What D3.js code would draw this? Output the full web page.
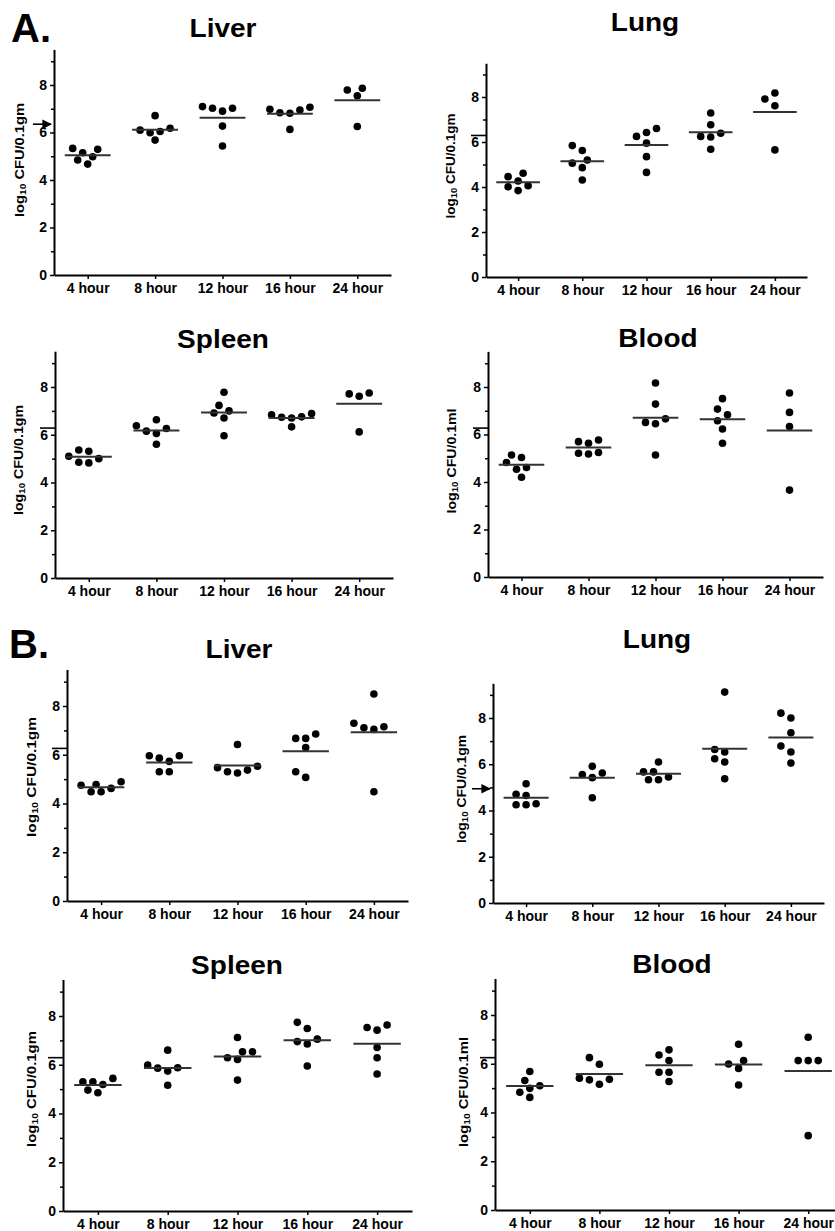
<!DOCTYPE html>
<html>
<head>
<meta charset="utf-8">
<script src="https://cdn.jsdelivr.net/npm/d3@7"></script>
<style>
  body { margin: 0; background: #fff; }
  svg text { font-family: "Liberation Sans", Arial, Helvetica, sans-serif; font-weight: bold; fill: #000; }
</style>
</head>
<body>
<svg width="835" height="1231"></svg>
<script>
// categories and ticks
const hours = ["4 hour", "8 hour", "12 hour", "16 hour", "24 hour"];
const majorTicks = [0, 2, 4, 6, 8];
const minorTicks = [1, 3, 5, 7, 9];

// log10 CFU per animal, one array per time point
const aLiver = [[5.29, 5.15, 5.33, 4.98, 4.67, 4.84], [6.71, 6.04, 6.18, 6.10, 5.99, 5.68], [7.02, 6.90, 7.09, 7.02, 6.27, 5.43], [6.98, 6.81, 6.83, 7.06, 6.95, 6.13], [7.79, 7.55, 7.86, 6.25]];
const aLung = [[4.61, 4.46, 4.27, 4.06, 3.84, 4.01], [5.84, 5.62, 5.06, 4.86, 5.20, 4.31], [6.60, 6.42, 6.25, 5.95, 5.35, 4.65], [7.29, 6.77, 6.25, 6.22, 6.39, 5.68], [7.91, 8.18, 7.61, 5.65]];
const aSpleen = [[5.31, 5.36, 5.10, 5.00, 4.82, 4.85], [6.38, 6.63, 6.26, 6.05, 6.15, 5.60], [7.78, 7.23, 7.00, 6.91, 6.70, 5.96], [6.89, 6.84, 6.73, 6.70, 6.75, 6.33], [7.71, 7.61, 7.75, 6.12]];
const aBlood = [[5.03, 5.14, 4.82, 4.61, 4.54, 4.20], [5.77, 5.70, 5.63, 5.24, 5.18, 5.21], [8.17, 7.28, 6.51, 6.45, 6.66, 5.14], [7.51, 7.07, 6.83, 6.58, 6.23, 5.63], [7.75, 6.93, 6.34, 3.66]];
const bLiver = [[4.62, 4.78, 4.75, 4.89, 4.48, 4.48], [5.96, 5.86, 5.96, 5.73, 5.30, 5.30], [6.42, 5.53, 5.37, 5.47, 5.30, 5.25], [6.67, 6.85, 6.67, 6.30, 5.30, 5.07], [8.49, 7.29, 7.11, 7.04, 7.15, 4.48]];
const bLung = [[5.16, 4.70, 4.65, 4.29, 4.25, 4.25], [5.91, 5.62, 5.56, 5.42, 4.55], [6.10, 5.67, 5.67, 5.45, 5.33, 5.33], [9.12, 6.64, 6.53, 6.24, 6.10, 5.37], [8.21, 8.00, 7.36, 6.79, 6.53, 6.05]];
const bSpleen = [[5.30, 5.19, 5.30, 5.44, 4.85, 4.96], [6.60, 5.99, 5.86, 5.74, 5.88, 5.16], [7.12, 6.53, 6.53, 6.29, 6.22, 5.37], [7.74, 7.49, 6.95, 6.85, 7.05, 5.95], [7.53, 7.42, 7.63, 6.71, 6.29, 5.62]];
const bBlood = [[5.31, 5.68, 4.99, 5.10, 4.83, 4.62], [6.25, 5.98, 5.36, 5.41, 5.34, 5.16], [6.36, 6.13, 6.57, 5.65, 5.65, 5.27], [6.80, 5.99, 5.81, 6.13, 5.13], [7.09, 6.13, 6.13, 6.13, 3.05]];

// inoculum marks on the y axis
const inocA = [6.35, 6.29, 6.28, 6.27];
const inocB = [6.26, 4.94, 6.29, 6.25];

const svg = d3.select("svg");

// panel frames: axis extents in px, title and y-label positions
const panels = [
  { title: "Liver", unit: "gm", values: aLiver, inoc: inocA[0], arrow: true, left: 54, right: 391, y0: 275, y8: 85, tx: 223, ty: 37, lx: 19, ly: 160, ll: 114 },
  { title: "Lung", unit: "gm", values: aLung, inoc: inocA[1], arrow: false, left: 486, right: 807, y0: 277, y8: 97, tx: 645, ty: 31, lx: 450, ly: 166, ll: 105 },
  { title: "Spleen", unit: "gm", values: aSpleen, inoc: inocA[2], arrow: false, left: 55, right: 393, y0: 578, y8: 387, tx: 223, ty: 348, lx: 18, ly: 460, ll: 110 },
  { title: "Blood", unit: "ml", values: aBlood, inoc: inocA[3], arrow: false, left: 488, right: 823, y0: 577, y8: 387, tx: 658, ty: 347, lx: 451, ly: 461, ll: 105 },
  { title: "Liver", unit: "gm", values: bLiver, inoc: inocB[0], arrow: false, left: 67, right: 408, y0: 901, y8: 706, tx: 239, ty: 658, lx: 31, ly: 777, ll: 120 },
  { title: "Lung", unit: "gm", values: bLung, inoc: inocB[1], arrow: true, left: 493, right: 824, y0: 903, y8: 718, tx: 657, ty: 648, lx: 461, ly: 789, ll: 108 },
  { title: "Spleen", unit: "gm", values: bSpleen, inoc: inocB[2], arrow: false, left: 63, right: 412, y0: 1211, y8: 1016, tx: 237, ty: 974, lx: 31, ly: 1089, ll: 116 },
  { title: "Blood", unit: "ml", values: bBlood, inoc: inocB[3], arrow: false, left: 495, right: 843, y0: 1210, y8: 1015, tx: 672, ty: 973, lx: 463, ly: 1092, ll: 110 }
];

// group letters
svg.append("text").attr("x", 11).attr("y", 42).style("font-size", "40px").text("A.");
svg.append("text").attr("x", 9).attr("y", 658).style("font-size", "40px").text("B.");

const defs = svg.append("defs");
defs.append("marker")
  .attr("id", "arrowhead")
  .attr("viewBox", "0 0 10 10")
  .attr("refX", 9).attr("refY", 5)
  .attr("markerWidth", 6).attr("markerHeight", 6)
  .attr("orient", "auto")
  .append("path").attr("d", "M0,0 L10,5 L0,10 z").attr("fill", "#000");

const r = 3.8;

// simple dodge so dots with near equal values sit side by side
function dodge(ys, step, minDist) {
  const order = d3.range(ys.length).sort((a, b) => ys[b] - ys[a]);
  const placed = [];
  const offs = new Array(ys.length);
  order.forEach((i) => {
    const y = ys[i];
    for (let k = 0; k < 20; k++) {
      const cands = k === 0 ? [0] : [-k * step, k * step];
      let found = null;
      for (const dx of cands) {
        const ok = placed.every((p) => Math.hypot(p.dx - dx, p.y - y) >= minDist);
        if (ok) { found = dx; break; }
      }
      if (found !== null) { offs[i] = found; placed.push({ dx: found, y }); break; }
    }
  });
  return offs;
}

panels.forEach((p) => {
  const pxPerUnit = (p.y0 - p.y8) / 8;
  const y = d3.scaleLinear().domain([0, 9.5]).range([p.y0, p.y0 - 9.5 * pxPerUnit]);
  const x = d3.scalePoint().domain(hours).range([p.left, p.right]).padding(0.5);
  const g = svg.append("g");

  // minor ticks
  g.append("g")
    .attr("transform", `translate(${p.left},0)`)
    .call(d3.axisLeft(y).tickValues(minorTicks).tickSize(3).tickFormat(""))
    .call((s) => s.select(".domain").remove())
    .call((s) => s.selectAll("line").attr("stroke-width", 1.5));

  // y axis
  const ya = g.append("g")
    .attr("transform", `translate(${p.left},0)`)
    .call(d3.axisLeft(y).tickValues(majorTicks).tickSize(4).tickSizeOuter(0).tickPadding(3));
  ya.select(".domain").attr("stroke-width", 2);
  ya.selectAll(".tick line").attr("stroke-width", 1.5);
  ya.selectAll(".tick text").style("font-size", "14px");

  // x axis
  const xa = g.append("g")
    .attr("transform", `translate(0,${p.y0})`)
    .call(d3.axisBottom(x).tickSize(4).tickSizeOuter(0).tickPadding(4));
  xa.select(".domain").attr("stroke-width", 2);
  xa.selectAll(".tick line").attr("stroke-width", 1.5);
  xa.selectAll(".tick text").style("font-size", "14px");

  // title
  g.append("text")
    .attr("transform", `translate(${p.tx},${p.ty}) scale(1.12,1)`)
    .attr("text-anchor", "middle")
    .style("font-size", "25px")
    .text(p.title);

  // y label
  const lab = g.append("text")
    .attr("transform", `translate(${p.lx},${p.ly}) rotate(-90)`)
    .attr("text-anchor", "middle")
    .attr("dominant-baseline", "central")
    .attr("textLength", p.ll)
    .attr("lengthAdjust", "spacingAndGlyphs")
    .style("font-size", "13px");
  lab.append("tspan").text("log");
  lab.append("tspan").attr("dy", 4).style("font-size", "9px").text("10");
  lab.append("tspan").attr("dy", -4).text(` CFU/0.1${p.unit}`);

  // inoculum mark
  const iy = y(p.inoc);
  g.append("line")
    .attr("x1", p.left - (p.arrow ? 21 : 15)).attr("x2", p.left - (p.arrow ? 3 : 0))
    .attr("y1", iy).attr("y2", iy)
    .attr("stroke", "#000").attr("stroke-width", 1.6)
    .attr("marker-end", p.arrow ? "url(#arrowhead)" : null);

  // dots and mean lines
  const half = x.step() * 0.34;
  p.values.forEach((vals, ci) => {
    const cx = x(hours[ci]);
    const ys = vals.map((v) => y(v));
    const offs = dodge(ys, 5, 8.5);
    g.append("g").selectAll("circle")
      .data(vals)
      .join("circle")
      .attr("cx", (d, i) => cx + offs[i])
      .attr("cy", (d) => y(d))
      .attr("r", r)
      .attr("fill", "#000");
    const m = d3.mean(vals);
    g.append("line")
      .attr("x1", cx - half).attr("x2", cx + half)
      .attr("y1", y(m)).attr("y2", y(m))
      .attr("stroke", "#333").attr("stroke-width", 2);
  });
});
</script>
</body>
</html>
